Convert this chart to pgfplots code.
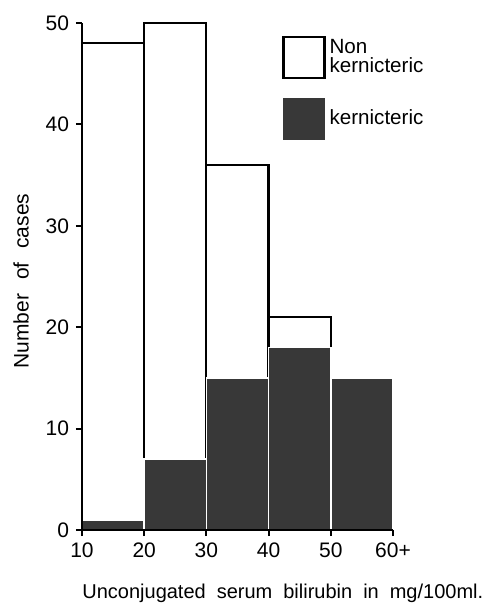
\documentclass[border=0pt]{standalone}
\usepackage{fontspec}
\setmainfont{Liberation Sans}
\usepackage{pgfplots}
\pgfplotsset{compat=1.18}
\definecolor{kern}{HTML}{383838}
\newcommand{\wsp}{\hspace{5.5pt}}
\begin{document}
\begin{tikzpicture}
\begin{axis}[
  at={(0,0)}, anchor=south west,
  scale only axis, width=155.5pt, height=253.5pt,
  xmin=10, xmax=60, ymin=0, ymax=50,
  axis x line=bottom, axis y line=left,
  axis line style={-, line width=1pt},
  axis on top,
  xtick={10,20,30,40,50,60},
  xticklabels={10,20,30,40,50,60+},
  ytick={0,10,20,30,40,50},
  tick align=outside, major tick length=3pt,
  tick style={line width=1pt, black},
  /pgf/number format/assume math mode=true,
  ticklabel style={font=\fontsize{10.5}{12}\selectfont},
  xlabel={Unconjugated\wsp serum\wsp bilirubin\wsp in\wsp mg/100ml.},
  xlabel style={at={(axis description cs:0,-0.136)}, anchor=base west, inner sep=0pt, font=\fontsize{10}{12}\selectfont},
  ylabel={Number\hspace{4pt} of\hspace{4pt} cases},
  ylabel style={at={(axis description cs:-0.196,0.491)}, anchor=center, font=\fontsize{10.5}{12}\selectfont},
  legend style={at={(axis description cs:0.643,0.976)}, anchor=north west,
    draw=none, fill=none, inner sep=0pt, row sep=9pt,
    font=\fontsize{10.3}{9.6}\selectfont,
    cells={anchor=west, align=left},
    /tikz/every even column/.append style={column sep=1pt}},
]
% total cases (outline)
\addplot[ybar interval, fill=white, draw=black, line width=1.1pt, forget plot]
  coordinates {(10,48) (20,50) (30,36) (40,21) (50,21)};
% kernicteric cases
\addplot[ybar interval, fill=kern, draw=white, line width=0.8pt, forget plot]
  coordinates {(10,1) (20,7) (30,15) (40,18) (50,15) (60,15)};

\addlegendimage{legend image code/.code={\draw[fill=white, line width=1.1pt] (0pt,-10.25pt) rectangle (20.5pt,10.25pt);}}
\addlegendentry{Non\\kernicteric}
\addlegendimage{legend image code/.code={\fill[kern] (0pt,-10.25pt) rectangle (20.5pt,10.25pt);}}
\addlegendentry{kernicteric}
\end{axis}
\pgfresetboundingbox
\path[use as bounding box] (-41pt,-36.5pt) rectangle (202pt,265pt);
\end{tikzpicture}
\end{document}
